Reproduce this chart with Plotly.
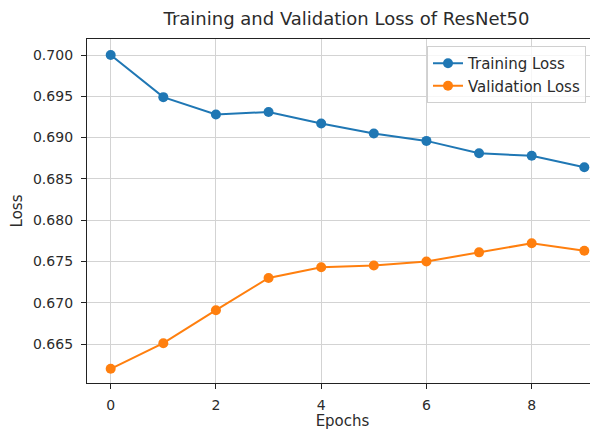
import plotly.graph_objects as go

epochs = list(range(10))
train_loss = [0.7000, 0.6949, 0.6928, 0.6931, 0.6917, 0.6905, 0.6896, 0.6881, 0.6878, 0.6864]
val_loss = [0.6620, 0.6651, 0.6691, 0.6730, 0.6743, 0.6745, 0.6750, 0.6761, 0.6772, 0.6763]
x_ticks = [0, 2, 4, 6, 8]
y_ticks = [0.665, 0.670, 0.675, 0.680, 0.685, 0.690, 0.695, 0.700]

FONT = "DejaVu Sans"
TXT = "#2b2b2b"
OFF = 8  # page body margin
W, H = 598 - OFF, 430 - OFF
L, R, T, B = 87 - OFF, 0, 39 - OFF, 430 - 383
PW, PH = W - L - R, H - T - B

fig = go.Figure()
fig.add_trace(go.Scatter(x=epochs, y=train_loss, mode="lines+markers", name="Training Loss",
                         line=dict(color="#1f77b4", width=2), marker=dict(size=10, color="#1f77b4")))
fig.add_trace(go.Scatter(x=epochs, y=val_loss, mode="lines+markers", name="Validation Loss",
                         line=dict(color="#ff7f0e", width=2), marker=dict(size=10, color="#ff7f0e")))

fig.update_layout(
    width=W, height=H,
    margin=dict(l=L, r=R, t=T, b=B, autoexpand=False),
    paper_bgcolor="white", plot_bgcolor="white",
    font=dict(family=FONT, size=14, color=TXT),
    title=dict(text="Training and Validation Loss of ResNet50", x=(346.5 - OFF) / W, xanchor="center",
               y=1 - (19 - OFF) / H, yanchor="middle", yref="container", xref="container",
               font=dict(size=18, color=TXT)),
    showlegend=True,
    legend=dict(x=(427 - 87) / PW, xref="paper", xanchor="left", y=1 - 7 / PH, yref="paper", yanchor="top",
                bgcolor="rgba(255,255,255,0.8)", bordercolor="#d0d0d0", borderwidth=1,
                font=dict(size=15, color=TXT), itemwidth=30, entrywidth=140, entrywidthmode="pixels",
                tracegroupgap=2),
)
fig.update_xaxes(
    range=[-0.45, 9.26], tickvals=x_ticks, ticktext=[str(t) for t in x_ticks],
    showgrid=True, gridcolor="#d3d3d3", gridwidth=1.2,
    showline=True, linecolor="#222", linewidth=1.3, mirror=True,
    ticks="outside", ticklen=5, tickcolor="#222", ticklabelstandoff=4,
    zeroline=False,
    title=dict(text="Epochs", standoff=3, font=dict(size=15, color=TXT)),
)
fig.update_yaxes(
    range=[0.66028, 0.70194], tickvals=y_ticks, ticktext=[f"{t:.3f}" for t in y_ticks],
    showgrid=True, gridcolor="#d3d3d3", gridwidth=1.2,
    showline=True, linecolor="#222", linewidth=1.3, mirror=False,
    ticks="outside", ticklen=5, tickcolor="#222", ticklabelstandoff=5,
    zeroline=False,
    title=dict(text="Loss", standoff=6, font=dict(size=15, color=TXT)),
)

fig.write_html("out.html")
